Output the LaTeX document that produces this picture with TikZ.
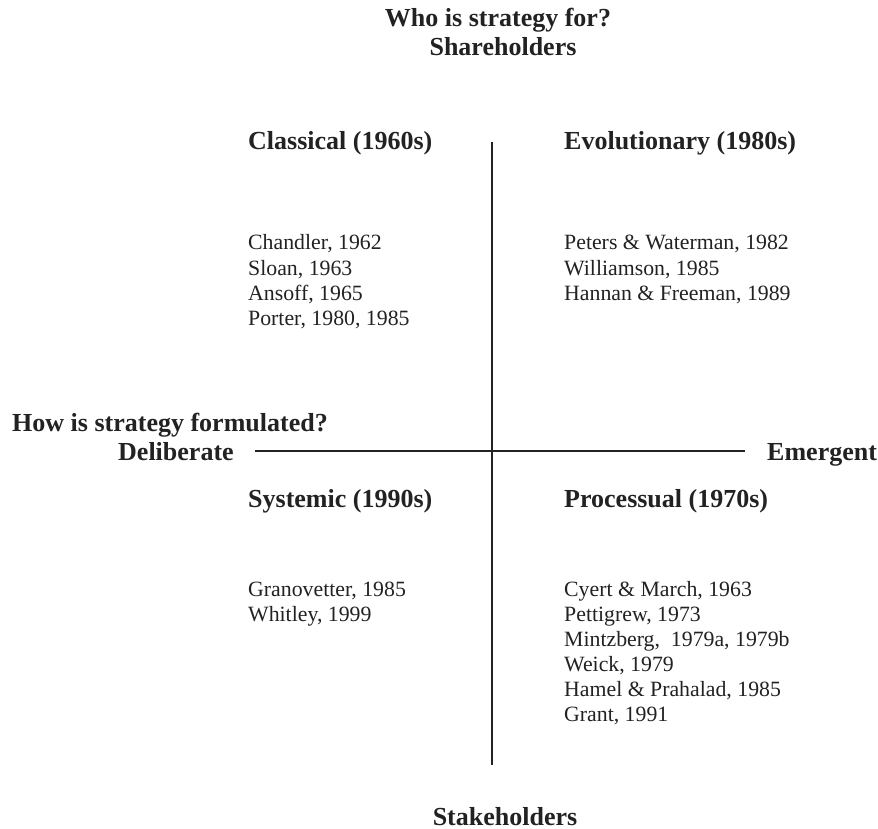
\documentclass[tikz,border=0pt]{standalone}
\usepackage{fontspec}
\setmainfont{Liberation Serif}
\definecolor{ink}{HTML}{222222}
\begin{document}
\begin{tikzpicture}[x=1pt,y=-1pt,
  head/.style={font=\fontsize{26}{29}\selectfont\bfseries, inner sep=0pt, text=ink},
  ref/.style={font=\fontsize{21.8}{25}\selectfont, inner sep=0pt, text=ink, anchor=base west},
  axis/.style={draw=ink, line width=1.3pt}]
\useasboundingbox[fill=white] (0,0) rectangle (878,829);
% top and bottom labels
\node[head, anchor=base] (who) at (498,27) {Who is strategy for?};
\node[head, anchor=base] (share) at (503,56) {Shareholders};
\node[head, anchor=base] (stake) at (505,825) {Stakeholders};
% left/right labels
\node[head, anchor=base west] (how) at (12,431) {How is strategy formulated?};
\node[head, anchor=base west] (delib) at (118,460) {Deliberate};
\node[head, anchor=base west] (emerg) at (767,460) {Emergent};
% axes
\coordinate (vtop) at (492,142);
\coordinate (vbot) at (492,765);
\coordinate (hl) at (255,451);
\coordinate (hr) at (745,451);
\draw[axis] (vtop) -- (vbot);
\draw[axis] (hl) -- (hr);
% quadrant headings
\node[head, anchor=base west] (classical) at (248,150) {Classical (1960s)};
\node[head, anchor=base west] (evol) at (564,150) {Evolutionary (1980s)};
\node[head, anchor=base west] (systemic) at (248,507) {Systemic (1990s)};
\node[head, anchor=base west] (process) at (564,507) {Processual (1970s)};
% classical references
\node[ref] (c1) at (248,250) {Chandler, 1962};
\node[ref] (c2) at (248,275) {Sloan, 1963};
\node[ref] (c3) at (248,300) {Ansoff, 1965};
\node[ref] (c4) at (248,325) {Porter, 1980, 1985};
% evolutionary references
\node[ref] (e1) at (564,250) {Peters \& Waterman, 1982};
\node[ref] (e2) at (564,275) {Williamson, 1985};
\node[ref] (e3) at (564,300) {Hannan \& Freeman, 1989};
% systemic references
\node[ref] (s1) at (248,596) {Granovetter, 1985};
\node[ref] (s2) at (248,621) {Whitley, 1999};
% processual references
\node[ref] (p1) at (564,596) {Cyert \& March, 1963};
\node[ref] (p2) at (564,621) {Pettigrew, 1973};
\node[ref] (p3) at (564,646) {Mintzberg, \ 1979a, 1979b};
\node[ref] (p4) at (564,671) {Weick, 1979};
\node[ref] (p5) at (564,696) {Hamel \& Prahalad, 1985};
\node[ref] (p6) at (564,721) {Grant, 1991};
\end{tikzpicture}
\end{document}
